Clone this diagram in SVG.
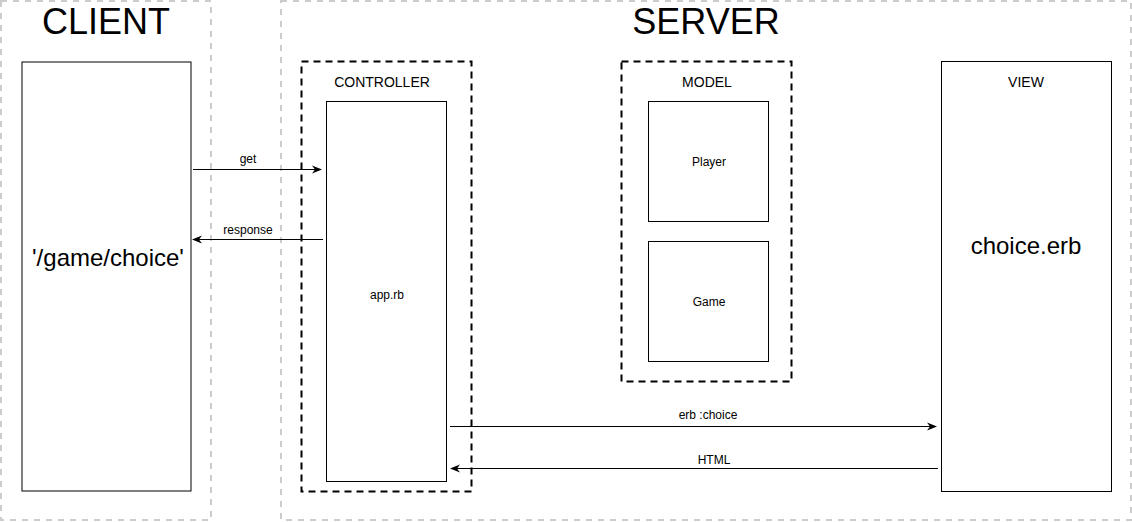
<svg xmlns="http://www.w3.org/2000/svg" width="1132" height="522" viewBox="0 0 1132 522">
<style>
text{font-family:"Liberation Sans",Arial,sans-serif;fill:#000;text-anchor:middle}
.zone{fill:none;stroke:#cccccc;stroke-width:2;stroke-dasharray:6 6}
.grp{fill:none;stroke:#000;stroke-width:2;stroke-dasharray:7 5}
.box{fill:#fff;stroke:#000;stroke-width:1}
.big{font-size:36px}
.lbl{font-size:14px}
.sm{font-size:12px}
.mid{font-size:24px}
.c{fill:none;stroke:#000;stroke-width:1;marker-end:url(#ah)}
</style>
<defs>
<marker id="ah" viewBox="0 0 10 10" refX="9" refY="5" markerWidth="10" markerHeight="10" markerUnits="userSpaceOnUse" orient="auto">
<path d="M0,1 L10,5 L0,9 L3,5 Z" fill="#000"/>
</marker>
</defs>
<rect width="1132" height="522" fill="#fff"/>
<g id="client-zone">
<rect class="zone" x="1" y="1" width="210" height="519"/>
<text class="big" x="106" y="34">CLIENT</text>
</g>
<g id="server-zone">
<rect class="zone" x="281" y="1" width="850" height="519"/>
<text class="big" x="706" y="34">SERVER</text>
</g>
<g id="client">
<rect class="box" x="22" y="62" width="169" height="429"/>
<text class="mid" x="108" y="266">'/game/choice'</text>
</g>
<g id="controller">
<rect class="grp" x="301.5" y="61.5" width="170" height="430"/>
<text class="lbl" x="382" y="87">CONTROLLER</text>
</g>
<g id="app">
<rect class="box" x="326.5" y="101.5" width="120" height="380"/>
<text class="sm" x="387" y="299">app.rb</text>
</g>
<g id="model">
<rect class="grp" x="621.5" y="61.5" width="170" height="320"/>
<text class="lbl" x="707" y="87">MODEL</text>
</g>
<g id="player">
<rect class="box" x="648.5" y="101.5" width="120" height="120"/>
<text class="sm" x="709" y="166">Player</text>
</g>
<g id="game">
<rect class="box" x="648.5" y="241.5" width="120" height="120"/>
<text class="sm" x="709" y="306">Game</text>
</g>
<g id="view">
<rect class="box" x="941.5" y="61.5" width="170" height="430"/>
<text class="lbl" x="1026" y="87">VIEW</text>
<text class="mid" x="1026" y="254">choice.erb</text>
</g>
<g id="connectors">
<line class="c" x1="193" y1="169.5" x2="321" y2="169.5"/>
<text class="sm" x="248" y="163">get</text>
<line class="c" x1="323" y1="239.5" x2="193" y2="239.5"/>
<text class="sm" x="248" y="234">response</text>
<line class="c" x1="450" y1="426.5" x2="936" y2="426.5"/>
<text class="sm" x="708" y="419">erb :choice</text>
<line class="c" x1="938" y1="468.5" x2="451" y2="468.5"/>
<text class="sm" x="714" y="464">HTML</text>
</g>
</svg>
